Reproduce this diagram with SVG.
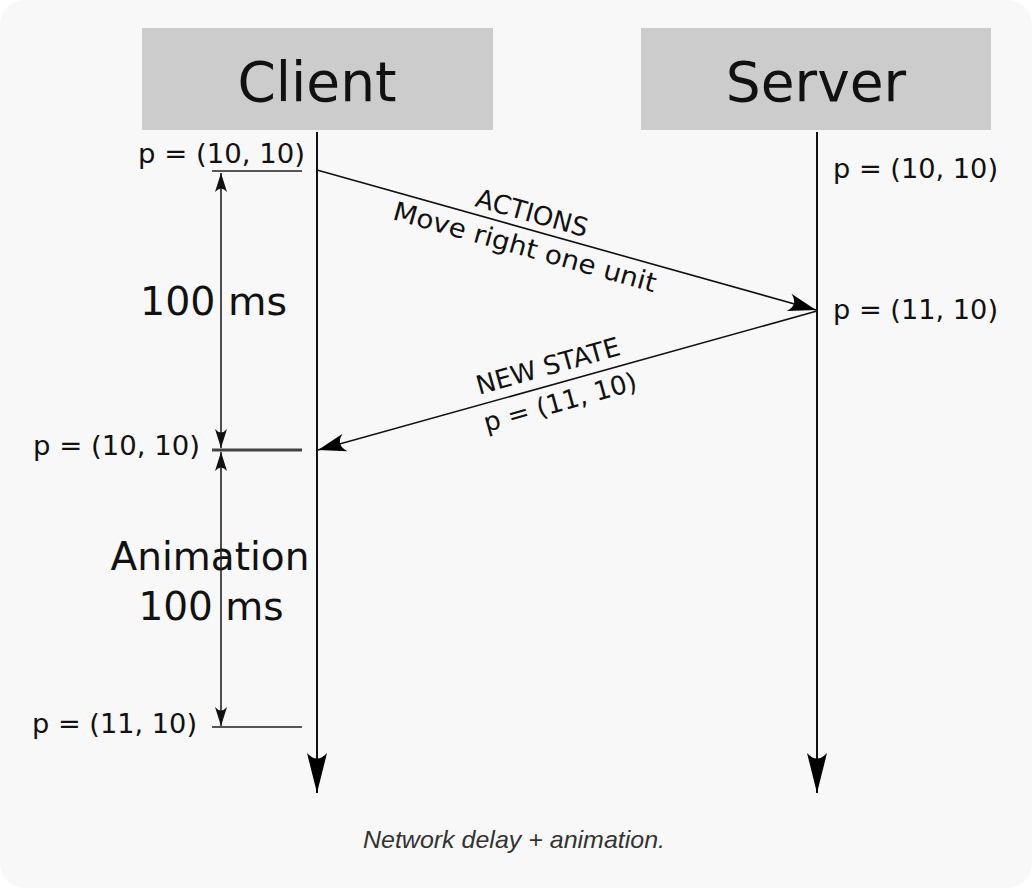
<svg xmlns="http://www.w3.org/2000/svg" width="1034" height="892" viewBox="0 0 1034 892">
  <style>
    .lbl { font-family: "DejaVu Sans", sans-serif; fill: #111; }
    .small { font-size: 26px; }
    .mid { font-size: 26px; }
    .big { font-size: 39px; }
    .head { font-size: 55px; text-anchor: middle; }
    .box { fill: #cccccc; }
    .life { stroke: #111; stroke-width: 2; fill: none; }
    .msg { stroke: #111; stroke-width: 1.6; fill: none; }
    .dim { stroke: #222; stroke-width: 1.6; fill: none; }
    .caption { font-family: "Liberation Sans", Arial, sans-serif; font-style: italic; font-size: 24px; fill: #333; text-anchor: middle; }
  </style>
  <defs>
    <marker id="bigHead" markerUnits="userSpaceOnUse" markerWidth="44" markerHeight="24" viewBox="-42 -12 44 24" refX="0" refY="0" orient="auto">
      <path d="M0,0 L-40,-10 Q-29,0 -40,10 Z" fill="#000"/>
    </marker>
    <marker id="msgHead" markerUnits="userSpaceOnUse" markerWidth="32" markerHeight="22" viewBox="-30 -11 32 22" refX="0" refY="0" orient="auto">
      <path d="M0,0 L-28,-9 Q-18,0 -28,9 Z" fill="#000"/>
    </marker>
    <marker id="dimHead" markerUnits="userSpaceOnUse" markerWidth="22" markerHeight="14" viewBox="-20 -7 22 14" refX="0" refY="0" orient="auto-start-reverse">
      <path d="M0,0 L-19,-6 Q-12,0 -19,6 Z" fill="#111"/>
    </marker>
  </defs>

  <rect x="0" y="0" width="1034" height="892" fill="#ffffff"/>
  <rect x="0" y="0" width="1032" height="888" rx="24" ry="24" fill="#f8f8f8"/>

  <g id="client">
    <rect class="box" x="142" y="28" width="351" height="102"/>
    <text class="lbl head" x="317" y="101">Client</text>
  </g>

  <g id="server">
    <rect class="box" x="641" y="28" width="350" height="102"/>
    <text class="lbl head" x="816" y="101">Server</text>
  </g>

  <g id="client-states">
    <text class="lbl small" x="138" y="163" textLength="167" lengthAdjust="spacingAndGlyphs">p = (10, 10)</text>
    <text class="lbl small" x="33" y="455" textLength="167" lengthAdjust="spacingAndGlyphs">p = (10, 10)</text>
    <text class="lbl small" x="32" y="733" textLength="165" lengthAdjust="spacingAndGlyphs">p = (11, 10)</text>
    <line x1="212" y1="171" x2="302" y2="171" stroke="#222" stroke-width="1.6"/>
    <line x1="212" y1="450" x2="302" y2="450" stroke="#444" stroke-width="3"/>
    <line x1="212" y1="727" x2="302" y2="727" stroke="#555" stroke-width="2"/>
  </g>

  <g id="server-states">
    <text class="lbl small" x="833" y="178" textLength="165" lengthAdjust="spacingAndGlyphs">p = (10, 10)</text>
    <text class="lbl small" x="833" y="319" textLength="165" lengthAdjust="spacingAndGlyphs">p = (11, 10)</text>
  </g>

  <g id="durations">
    <text class="lbl big" x="140" y="315" textLength="147" lengthAdjust="spacingAndGlyphs">100 ms</text>
    <text class="lbl big" x="210" y="570" text-anchor="middle">Animation</text>
    <text class="lbl big" x="211" y="620" text-anchor="middle">100 ms</text>
  </g>

  <g id="connectors">
    <line class="life" x1="317" y1="132" x2="317" y2="793" marker-end="url(#bigHead)"/>
    <line class="life" x1="817" y1="132" x2="817" y2="793" marker-end="url(#bigHead)"/>
    <line class="msg" x1="317" y1="170" x2="816" y2="310" marker-end="url(#msgHead)"/>
    <line class="msg" x1="817" y1="311" x2="318" y2="450" marker-end="url(#msgHead)"/>
    <line class="dim" x1="221" y1="173" x2="221" y2="448" marker-start="url(#dimHead)" marker-end="url(#dimHead)"/>
    <line class="dim" x1="221" y1="452" x2="221" y2="726" marker-start="url(#dimHead)" marker-end="url(#dimHead)"/>
  </g>

  <g id="message-labels">
    <text class="lbl mid" text-anchor="middle" transform="translate(532,213) rotate(15.64)" y="9">ACTIONS</text>
    <text class="lbl mid" text-anchor="middle" transform="translate(525,247) rotate(15.64)" y="9" textLength="272" lengthAdjust="spacingAndGlyphs">Move right one unit</text>
    <text class="lbl mid" text-anchor="middle" transform="translate(548,366) rotate(-15.64)" y="9">NEW STATE</text>
    <text class="lbl mid" text-anchor="middle" transform="translate(560,402) rotate(-15.64)" y="9">p = (11, 10)</text>
  </g>

  <text class="caption" x="514" y="848" textLength="302" lengthAdjust="spacingAndGlyphs">Network delay + animation.</text>
</svg>
